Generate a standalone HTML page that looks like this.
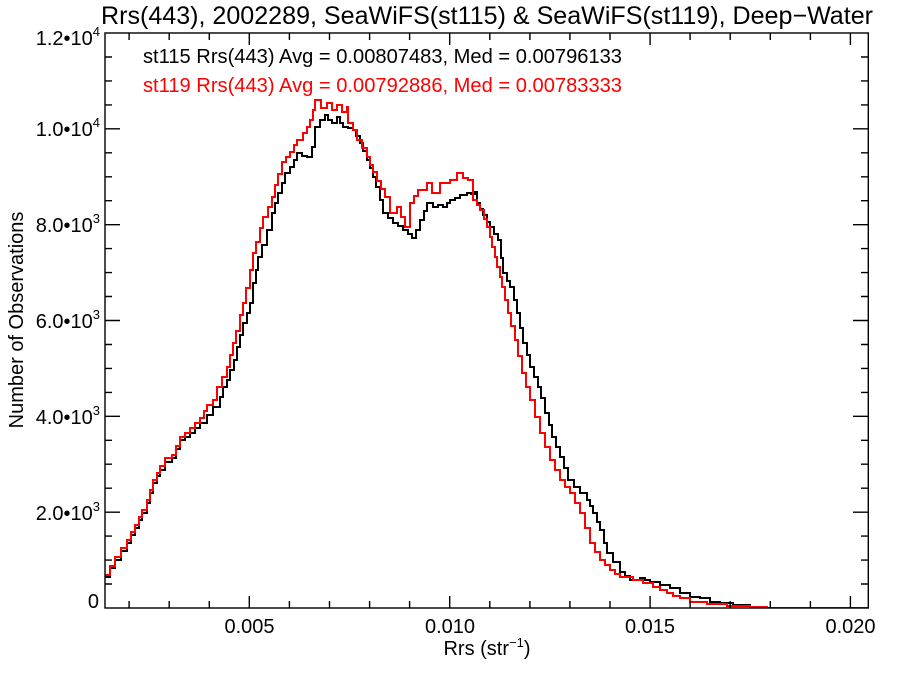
<!DOCTYPE html>
<html>
<head>
<meta charset="utf-8">
<style>
  html,body{margin:0;padding:0;background:#fff;}
  svg{display:block;}
  text{font-family:"Liberation Sans",Arial,Helvetica,sans-serif;fill:#000;}
</style>
</head>
<body>
<svg width="900" height="675" viewBox="0 0 900 675" xmlns="http://www.w3.org/2000/svg">
  <defs>
    <clipPath id="plotclip"><rect x="105" y="33" width="763.3" height="575"/></clipPath>
  </defs>
  <rect x="0" y="0" width="900" height="675" fill="#fff"/>

  <!-- Title -->
  <text x="101" y="24" font-size="25" textLength="772" lengthAdjust="spacingAndGlyphs">Rrs(443), 2002289, SeaWiFS(st115) &amp; SeaWiFS(st119), Deep−Water</text>

  <!-- Legend text -->
  <text x="143" y="63" font-size="20" textLength="479" lengthAdjust="spacingAndGlyphs">st115 Rrs(443) Avg = 0.00807483, Med = 0.00796133</text>
  <text x="143" y="92" font-size="20" fill="#ff0000" style="fill:#ff0000" textLength="479" lengthAdjust="spacingAndGlyphs">st119 Rrs(443) Avg = 0.00792886, Med = 0.00783333</text>

  <!-- Series -->
  <g clip-path="url(#plotclip)" fill="none" stroke-width="2" stroke-linejoin="miter">
    <path stroke="#000" d="M105,577 H110 V568 H115 V560 H121 V551 H127 V543 H131 V535 H135 V528 H139 V520 H142 V513 H147 V503 H150 V493 H153 V483 H157 V476 H160 V470 H165 V462 H172 V458 H176 V449 H180 V440 H185 V437 H190 V433 H195 V428 H200 V423 H207 V415 H213 V407 H220 V397 H223 V387 H227 V380 H230 V370 H234 V360 H237 V347 H240 V335 H243 V323 H247 V313 H250 V303 H253 V283 H256 V270 H258 V257 H262 V245 H267 V230 H272 V213 H275 V203 H278 V193 H282 V183 H285 V173 H290 V167 H294 V160 H297 V153 H302 V156 H307 V157 H312 V147 H315 V127 H320 V120 H325 V115 H328 V120 H332 V123 H337 V117 H340 V123 H343 V127 H348 V128 H353 V130 H356 V136 H360 V143 H363 V151 H367 V160 H370 V168 H373 V177 H376 V187 H380 V200 H383 V213 H388 V218 H393 V223 H398 V226 H403 V230 H408 V234 H412 V238 H416 V230 H420 V220 H424 V211 H427 V203 H433 V207 H438 V205 H443 V207 H447 V203 H450 V200 H455 V198 H460 V195 H467 V193 H471 V194 H475 V192 H477 V203 H480 V209 H483 V215 H487 V222 H490 V227 H494 V234 H498 V240 H501 V258 H503 V273 H507 V281 H510 V287 H514 V300 H517 V313 H520 V328 H523 V343 H527 V355 H530 V367 H534 V377 H538 V387 H541 V398 H545 V413 H549 V425 H552 V437 H556 V447 H560 V457 H564 V468 H568 V480 H574 V487 H580 V493 H587 V500 H590 V506 H593 V513 H597 V522 H600 V530 H604 V543 H607 V553 H613 V562 H620 V572 H625 V576 H630 V580 H640 V578 H645 V580 H650 V582 H660 V585 H670 V588 H680 V593 H690 V597 H700 V598 H710 V602 H720 V603 H733 V605 H750 V607 H767 V608 H868"/>
    <path stroke="#ff0000" d="M105,575 H110 V566 H115 V557 H121 V548 H127 V540 H131 V532 H135 V525 H139 V517 H142 V510 H147 V500 H150 V490 H153 V480 H157 V473 H160 V466 H165 V458 H172 V455 H176 V446 H180 V437 H185 V433 H190 V428 H195 V423 H200 V418 H204 V411 H207 V405 H213 V400 H217 V387 H222 V377 H227 V367 H230 V355 H233 V343 H236 V331 H240 V315 H243 V303 H246 V288 H250 V270 H253 V253 H256 V242 H260 V228 H263 V217 H268 V207 H272 V197 H275 V185 H278 V174 H282 V162 H286 V157 H290 V152 H294 V145 H297 V140 H303 V133 H307 V127 H310 V120 H313 V110 H315 V100 H321 V108 H327 V103 H332 V110 H337 V105 H342 V112 H347 V107 H348 V123 H353 V130 H357 V140 H362 V148 H367 V157 H370 V165 H373 V172 H377 V181 H381 V189 H385 V197 H390 V213 H397 V207 H401 V217 H405 V227 H410 V203 H414 V196 H418 V190 H427 V183 H432 V193 H440 V183 H450 V180 H457 V173 H463 V178 H468 V180 H473 V200 H477 V205 H480 V210 H484 V219 H487 V227 H490 V237 H492 V247 H495 V257 H497 V267 H500 V277 H502 V287 H505 V300 H508 V313 H511 V326 H515 V340 H518 V356 H522 V373 H526 V387 H530 V400 H535 V417 H540 V433 H545 V447 H550 V460 H555 V470 H560 V480 H565 V487 H570 V493 H575 V503 H580 V513 H585 V528 H590 V543 H595 V552 H600 V560 H605 V565 H610 V570 H615 V574 H620 V577 H633 V580 H643 V583 H653 V587 H660 V590 H667 V593 H673 V596 H680 V598 H690 V602 H707 V604 H727 V606 H750 V607 H767 V608 H868"/>
  </g>

  <!-- Frame -->
  <rect x="105" y="33" width="763.3" height="575" fill="none" stroke="#000" stroke-width="1.4"/>

  <!-- X ticks (bottom & top) -->
  <path fill="none" stroke="#000" stroke-width="1.4" d="
    M129.1,608 V601 M169.2,608 V601 M209.3,608 V601 M249.3,608 V596 M289.4,608 V601 M329.5,608 V601 M369.6,608 V601 M409.6,608 V601 M449.7,608 V596 M489.8,608 V601 M529.9,608 V601 M569.9,608 V601 M610.0,608 V601 M650.1,608 V596 M690.1,608 V601 M730.2,608 V601 M770.3,608 V601 M810.4,608 V601 M850.4,608 V596
    M129.1,33 V40 M169.2,33 V40 M209.3,33 V40 M249.3,33 V45 M289.4,33 V40 M329.5,33 V40 M369.6,33 V40 M409.6,33 V40 M449.7,33 V45 M489.8,33 V40 M529.9,33 V40 M569.9,33 V40 M610.0,33 V40 M650.1,33 V45 M690.1,33 V40 M730.2,33 V40 M770.3,33 V40 M810.4,33 V40 M850.4,33 V45
  "/>

  <!-- Y ticks (left & right) -->
  <path fill="none" stroke="#000" stroke-width="1.4" d="
    M105,584.0 H112 M105,560.1 H112 M105,536.1 H112 M105,512.2 H120 M105,488.2 H112 M105,464.2 H112 M105,440.3 H112 M105,416.3 H120 M105,392.4 H112 M105,368.4 H112 M105,344.5 H112 M105,320.5 H120 M105,296.5 H112 M105,272.6 H112 M105,248.6 H112 M105,224.7 H120 M105,200.7 H112 M105,176.8 H112 M105,152.8 H112 M105,128.8 H120 M105,104.9 H112 M105,80.9 H112 M105,57.0 H112
    M868,584.0 H861 M868,560.1 H861 M868,536.1 H861 M868,512.2 H853 M868,488.2 H861 M868,464.2 H861 M868,440.3 H861 M868,416.3 H853 M868,392.4 H861 M868,368.4 H861 M868,344.5 H861 M868,320.5 H853 M868,296.5 H861 M868,272.6 H861 M868,248.6 H861 M868,224.7 H853 M868,200.7 H861 M868,176.8 H861 M868,152.8 H861 M868,128.8 H853 M868,104.9 H861 M868,80.9 H861 M868,57.0 H861
  "/>

  <!-- Y tick labels -->
  <g font-size="20" text-anchor="end">
    <text x="100" y="45">1.2•10<tspan font-size="13" dy="-9">4</tspan></text>
    <text x="100" y="136">1.0•10<tspan font-size="13" dy="-9">4</tspan></text>
    <text x="100" y="232">8.0•10<tspan font-size="13" dy="-9">3</tspan></text>
    <text x="100" y="328">6.0•10<tspan font-size="13" dy="-9">3</tspan></text>
    <text x="100" y="424">4.0•10<tspan font-size="13" dy="-9">3</tspan></text>
    <text x="100" y="520">2.0•10<tspan font-size="13" dy="-9">3</tspan></text>
    <text x="99" y="608">0</text>
  </g>

  <!-- X tick labels -->
  <g font-size="20" text-anchor="middle">
    <text x="249.5" y="633">0.005</text>
    <text x="450" y="633">0.010</text>
    <text x="650" y="633">0.015</text>
    <text x="850.5" y="633">0.020</text>
  </g>

  <!-- Axis titles -->
  <text x="487" y="655" font-size="20" text-anchor="middle">Rrs (str<tspan font-size="13" dy="-8">−1</tspan><tspan dy="8">)</tspan></text>
  <text transform="translate(23,320) rotate(-90)" font-size="20" text-anchor="middle">Number of Observations</text>
</svg>
</body>
</html>
